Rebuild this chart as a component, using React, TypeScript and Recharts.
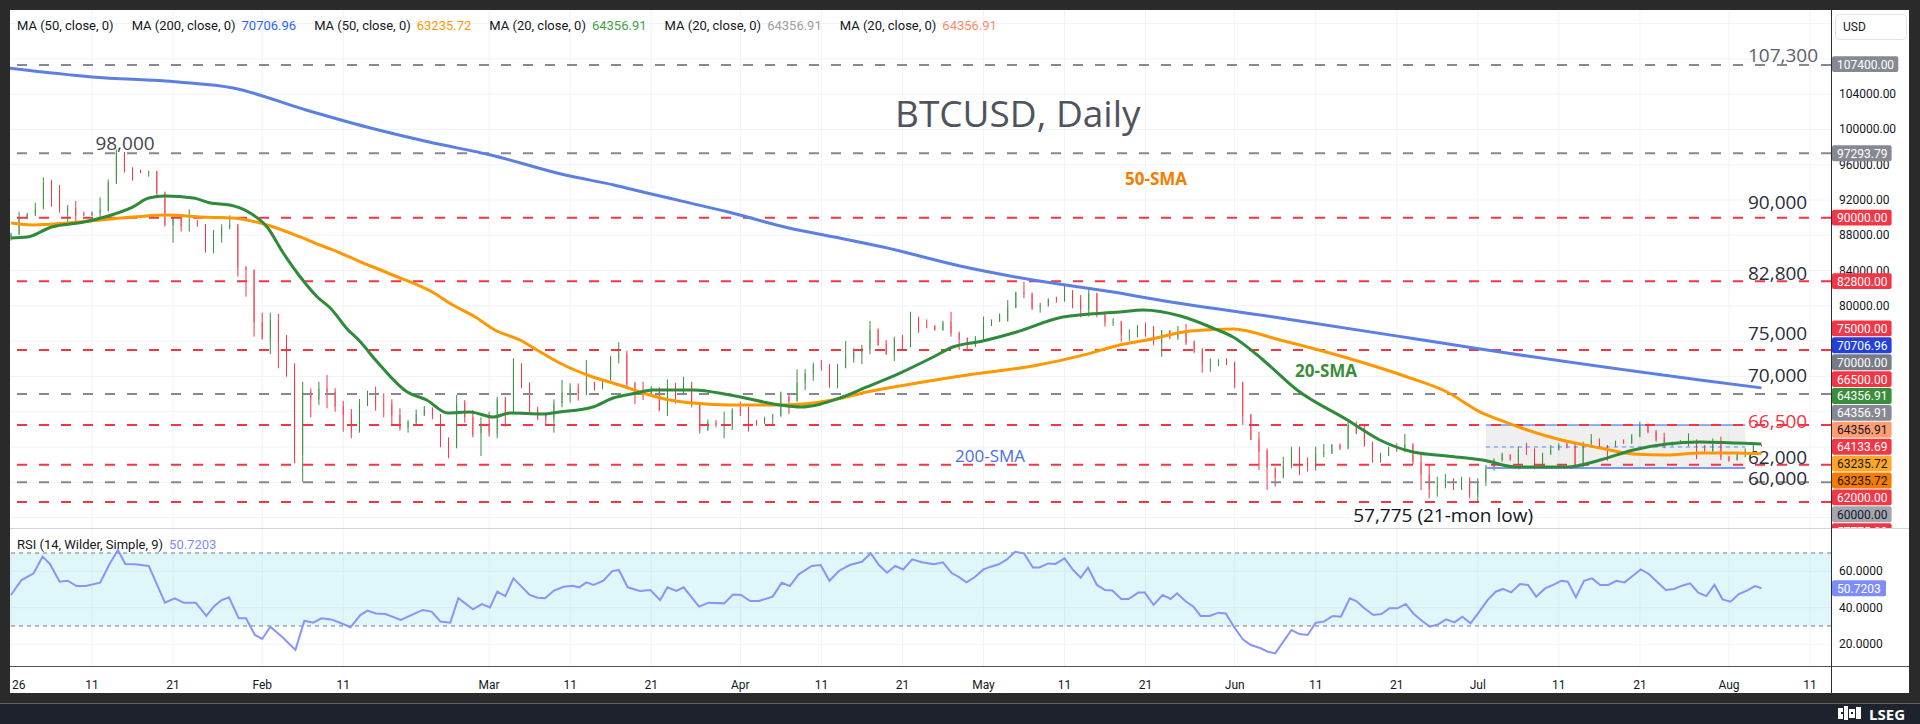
import React from "react";
import {
  CartesianGrid,
  ComposedChart,
  Bar,
  Line,
  ReferenceArea,
  ReferenceLine,
  XAxis,
  YAxis,
} from "recharts";

// ---- candles (day of year 2026, Jan 1 = 1) ----
const candleOpen = [
  87650, 88150, 89920, 90300, 91050, 94000, 93060, 90790, 91050, 90410,
  90260, 90490, 90790, 93890, 97360, 95470, 95360, 95100, 95210, 92830,
  89170, 90030, 89090, 89170, 89170, 86260, 87840, 88900, 89170, 84330,
  84060, 78170, 76210, 78400, 76130, 72540, 63100, 70280, 69410, 70620,
  70280, 68650, 67750, 65740, 68770, 69860, 68920, 68880, 67630, 66230,
  66760, 67630, 68270, 67630, 64570, 63970, 69030, 67370, 65550, 66690,
  65550, 69410, 67900, 73300, 71150, 68270, 67630, 67140, 68950, 70160,
  70660, 70090, 71340, 70660, 71600, 74170, 74550, 71220, 70390, 70010,
  70470, 68200, 70840, 70010, 71030, 68950, 65860, 66760, 66500, 66420,
  68310, 68200, 66950, 66690, 67370, 67520, 69710, 69260, 71300, 72280,
  73410, 73300, 71220, 73030, 74050, 74700, 75070, 77340, 75680, 74550,
  76210, 75570, 78400, 77830, 77720, 77270, 78210, 76890, 76320, 75570,
  76210, 77790, 78320, 78320, 79830, 81530, 81350, 79910, 80020, 80740,
  80590, 81720, 80670, 79610, 81350, 78970, 78100, 78210, 77080, 76810,
  77640, 77570, 75750, 77190, 76430, 77270, 75940, 75070, 73490, 73560,
  73790, 73490, 71300, 67630, 64870, 63590, 61590, 60570, 61850, 63480,
  62150, 61780, 63290, 63290, 64230, 63850, 66500, 65740, 64340, 62760,
  63100, 63740, 63480, 64340, 62340, 60830, 59430, 59510, 60260, 59430,
  60340, 58570, 60080, 61590, 62530, 63100, 62530, 63860, 63740, 61700,
  63210, 63670, 64350, 64120, 61850, 64350, 64880, 64160, 64120, 64720,
  64420, 65250, 66500, 65740, 65100, 64230, 64420, 64230, 64720, 63860,
  63480, 64720, 62910, 62530, 63480, 63590, 64200,
];
const candleHigh = [
  88300, 90680, 90560, 91700, 94570, 94270, 93700, 91430, 91890, 90680,
  90680, 92300, 94340, 97740, 97440, 95700, 95440, 95320, 95320, 92940,
  90300, 90190, 90940, 89730, 89280, 88600, 89240, 90260, 89280, 84520,
  84140, 79230, 79230, 79080, 76700, 73490, 71410, 70650, 71410, 72160,
  70660, 69220, 68310, 69450, 70390, 70840, 70090, 69410, 68390, 67070,
  68270, 68650, 68500, 67750, 65100, 69900, 69330, 68200, 67370, 68010,
  69710, 69710, 74060, 73490, 71340, 68580, 67900, 69410, 71600, 71220,
  71220, 73870, 71410, 71680, 74320, 75870, 74920, 71410, 71410, 70920,
  70770, 71680, 71300, 71980, 71410, 69030, 67140, 67070, 68010, 68390,
  69140, 68580, 67060, 67440, 67750, 70280, 69900, 72810, 72810, 73560,
  73870, 73410, 73410, 76020, 75190, 75570, 78290, 77450, 76130, 76510,
  76700, 79340, 78780, 78470, 77830, 78320, 79340, 77080, 76430, 76590,
  78780, 78470, 79150, 80670, 81610, 82740, 81500, 80360, 80850, 81040,
  82370, 81800, 81230, 81990, 81500, 79080, 78590, 78320, 77340, 77830,
  78100, 77720, 77270, 77270, 77720, 77950, 76060, 75190, 74050, 73940,
  74050, 73680, 71410, 67750, 65740, 63850, 61700, 62910, 64040, 64040,
  62830, 64040, 64340, 64340, 64420, 66990, 66880, 66500, 64610, 63360,
  64040, 64420, 65480, 64420, 63100, 61970, 60640, 60940, 60450, 60640,
  60570, 60460, 61970, 62720, 63360, 63210, 64040, 64500, 63860, 63360,
  64230, 64420, 64610, 64420, 64610, 65480, 64990, 64230, 64720, 64880,
  65480, 66880, 66690, 65930, 65630, 64610, 64800, 65560, 64880, 64230,
  64990, 65180, 62990, 63480, 63860, 64230, 64260,
];
const candleLow = [
  87390, 88030, 89810, 90190, 90940, 91240, 90560, 89350, 89540, 90190,
  90190, 89920, 90680, 93810, 95100, 94190, 95020, 94640, 92190, 88980,
  87160, 88410, 88410, 88980, 86030, 85950, 87160, 88670, 83310, 81040,
  76510, 76210, 74540, 72920, 71980, 62150, 60070, 67370, 68760, 68390,
  68010, 65740, 64990, 65630, 68650, 68120, 67370, 66610, 65860, 65630,
  66390, 67520, 67140, 63970, 62720, 63850, 66760, 65100, 62990, 65180,
  64990, 66310, 67820, 70660, 67820, 67070, 66610, 65630, 68500, 69030,
  69260, 69860, 70390, 70540, 71520, 73490, 70920, 68880, 69330, 69900,
  68050, 67520, 68950, 69900, 68500, 65550, 65860, 66230, 64990, 65930,
  67520, 65740, 66420, 66610, 66540, 67440, 67750, 69140, 70470, 71520,
  72660, 70730, 70650, 72920, 73560, 73410, 74510, 75450, 74430, 73750,
  75070, 75300, 76960, 77450, 77190, 77190, 76510, 75000, 74920, 75300,
  76130, 77720, 78170, 78210, 79720, 80850, 79530, 79230, 79910, 80360,
  80480, 79720, 78700, 78780, 78700, 77640, 77720, 75940, 76060, 76430,
  76510, 75570, 74240, 76210, 76130, 75570, 74620, 72430, 72540, 73190,
  73300, 70650, 66500, 64800, 61400, 59130, 59510, 60450, 61590, 60830,
  61210, 61320, 62830, 63210, 63660, 63740, 65480, 64040, 62230, 62230,
  62980, 63480, 63480, 62080, 59130, 58190, 58380, 59320, 59130, 59130,
  58190, 57775, 59590, 61320, 62340, 62460, 61480, 63100, 61480, 61700,
  63100, 63590, 63860, 61700, 61700, 64230, 63860, 62460, 64040, 64350,
  64350, 65100, 65560, 64610, 63860, 64120, 64350, 64120, 62610, 63360,
  63360, 62530, 62340, 62460, 62840, 63480, 64080,
];
const candleClose = [
  88150, 89920, 90410, 91050, 94000, 93060, 90870, 91050, 90190, 90260,
  90560, 90870, 94000, 97360, 95400, 95320, 95100, 95210, 92750, 89170,
  90110, 88980, 89170, 89050, 86260, 87840, 88790, 89170, 84330, 84140,
  78100, 76210, 78400, 76060, 72430, 63100, 70280, 69410, 70620, 70280,
  68580, 67630, 65740, 68880, 69900, 68770, 68840, 67630, 66120, 66840,
  67750, 68310, 67520, 64500, 63970, 68880, 67370, 65370, 66690, 65630,
  69410, 67900, 73300, 71030, 68200, 67370, 67140, 68950, 70200, 70660,
  70090, 71340, 70660, 71680, 74170, 74510, 71150, 70160, 70090, 70470,
  68200, 70840, 70010, 71030, 68950, 65860, 66760, 66500, 66570, 68200,
  68010, 66690, 66690, 67250, 67630, 70160, 69140, 71300, 72350, 73300,
  73190, 71220, 73110, 74130, 74810, 75190, 77270, 75570, 74550, 76210,
  75680, 78400, 77720, 77640, 77270, 78100, 76890, 76210, 75570, 76320,
  77830, 78400, 78850, 79830, 81530, 81350, 79720, 80100, 80740, 80590,
  81720, 80590, 79610, 81420, 78970, 78100, 78210, 76810, 77190, 77640,
  77530, 75680, 77190, 76430, 77080, 75830, 74810, 73490, 73680, 73790,
  73490, 71300, 67520, 64800, 63480, 61590, 60570, 61850, 63480, 62080,
  61780, 63290, 63360, 64230, 63850, 66500, 65550, 64230, 62910, 62910,
  63740, 63660, 64340, 62340, 60830, 59210, 59580, 60260, 59510, 60270,
  58570, 60080, 61590, 62530, 63210, 62610, 63740, 63670, 61700, 63210,
  63740, 64230, 64120, 61850, 64350, 64880, 64040, 64040, 64610, 64500,
  65250, 66310, 65740, 64800, 64120, 64500, 64610, 64800, 62720, 63590,
  64610, 62840, 62460, 63210, 63590, 64120, 64134,
];

// ---- moving averages ----
const sma20Days = [1, 3, 6, 10, 13, 16, 18, 20, 23.5, 25.6, 28, 30.5, 32.6, 34.6, 36.7, 38.8, 40.4, 42.6, 43.9, 46.2, 49.9, 52.3, 54.9, 57.6, 60.5, 62.6, 66.6, 68.7, 72.8, 75.3, 78.2, 80.2, 85.2, 89.7, 95.9, 98.4, 103.3, 106.6, 110.7, 114.8, 117.2, 120.9, 125.1, 130.8, 137.8, 140.7, 145.3, 149.3, 151.8, 155.5, 159.7, 165.9, 169.9, 174, 178.2, 182.6, 186.8, 193, 197.1, 201.2, 205.3, 209.4, 213.5, 217];
const sma20Values = [87690, 87800, 88940, 89500, 90190, 91200, 92220, 92450, 92220, 91660, 91430, 90530, 88940, 85990, 83270, 81010, 79760, 77270, 76130, 73640, 70240, 69330, 67860, 67970, 67410, 67860, 67750, 67970, 68540, 69560, 70130, 70470, 70470, 69900, 68770, 68540, 69560, 70810, 72390, 74210, 75340, 76020, 77040, 78740, 79310, 79530, 78850, 77490, 76470, 73870, 70470, 67070, 64800, 63440, 62990, 62530, 61740, 61740, 62530, 63670, 64350, 64570, 64460, 64357];

const sma50Days = [1, 3.7, 7.9, 12, 16.1, 20.2, 24.3, 28.4, 32.6, 36.7, 39.1, 40.4, 44.2, 48.1, 53.2, 55.3, 58.3, 60.7, 63.8, 65.9, 68.7, 72.8, 76.1, 79, 82.3, 85.2, 89.7, 96.3, 102.4, 106.6, 112.8, 119, 127.1, 133.3, 137.8, 141.2, 146.5, 151.8, 157.6, 165.9, 173.3, 178.2, 182.3, 184.7, 190.9, 197.1, 201.2, 205.3, 209.4, 213.5, 217];
const sma50Values = [89390, 89170, 89390, 89730, 90070, 90300, 90070, 89960, 89170, 87810, 86900, 86450, 84970, 83500, 81460, 80210, 78740, 77270, 76130, 75000, 73530, 71940, 71030, 70130, 69330, 68990, 68770, 68770, 69330, 70240, 71260, 72170, 73190, 74420, 75570, 76130, 77150, 77380, 76130, 74090, 71940, 70240, 67970, 67070, 65140, 63890, 63210, 63100, 63330, 63330, 63236];

const sma200Days = [0.5, 11, 21.6, 28.4, 37.4, 44.9, 52.6, 60.2, 69.4, 75.4, 79.5, 89.5, 97, 102.6, 108.6, 118.1, 127.1, 137.8, 141.2, 157.6, 174, 182.3, 209.4, 217];
const sma200Values = [106960, 105940, 105370, 104690, 102200, 100270, 98570, 97100, 94830, 93700, 92790, 90640, 88830, 87810, 86670, 84520, 82930, 81460, 80890, 78630, 76300, 75110, 71600, 70707];

// ---- RSI (14) ----
const rsiDays = [1, 2.3, 3.8, 4.9, 5.8, 7, 8, 9.1, 10.2, 12, 13.1, 14.2, 15.1, 16.3, 18, 20, 21.2, 22.3, 23.8, 25.1, 26.1, 27, 27.9, 29.1, 30, 31.1, 32, 33, 34.5, 36.1, 37.2, 38.3, 39.3, 40.5, 41.6, 42.9, 44.1, 45, 46, 47.2, 49.1, 50.4, 51.8, 52.9, 54, 55.2, 56.2, 58, 59.1, 60.1, 61, 62, 63, 65, 66, 66.9, 68, 69.2, 70.3, 71.1, 72, 72.9, 74.1, 75.2, 76, 77.1, 78.6, 79.9, 81.1, 82, 83.1, 84, 85.9, 87.1, 89, 90.1, 91.1, 92.2, 93.3, 95, 96.1, 97.1, 98.2, 99.8, 100.9, 102, 103.2, 104.5, 106, 107.1, 108.1, 109.1, 110.1, 111.1, 112.2, 113.4, 114.9, 116, 117.1, 117.9, 118.9, 119.9, 121, 121.9, 122.9, 123.9, 124.9, 126, 127.1, 127.9, 129, 129.9, 131, 132, 133, 133.9, 135, 136, 136.9, 138, 138.9, 140.1, 140.9, 142, 143.1, 144.1, 144.9, 145.9, 146.9, 147.8, 148.9, 150, 150.9, 151.9, 153, 154, 155.2, 156.1, 157, 158, 159, 160, 161, 162, 163, 164.1, 165.1, 166.2, 167, 168, 169.1, 170.1, 171.1, 172.1, 173.1, 174.1, 175.1, 176.1, 177.1, 178.1, 179.1, 180.1, 181.1, 182.1, 183.2, 184.2, 185.1, 186.1, 187.2, 188.2, 189.2, 190.3, 191.3, 192.3, 193.1, 194.1, 195.1, 196.1, 197.1, 198.1, 199.1, 200.1, 201.1, 202.1, 203.1, 204.1, 205.2, 206.2, 207.2, 208.2, 209.2, 210.2, 211.2, 212.2, 213.2, 214.2, 215.2, 216.2, 217];
const rsiValues = [47, 55.2, 58.9, 68, 64, 54.3, 54.8, 51.9, 51.9, 53.7, 63.4, 71.6, 64, 63.8, 62.9, 42.8, 45.2, 42.8, 42.8, 35.5, 41, 44.2, 45.7, 34.2, 34.2, 25.1, 22.9, 29.6, 23.8, 16.9, 32.9, 31.8, 34.2, 33.6, 31.8, 29.3, 36, 38.4, 36.9, 36.6, 33.3, 36, 38.8, 37.9, 32.4, 31.8, 45.2, 39.1, 42, 40.2, 48.8, 46.4, 56.1, 47, 45.5, 45.2, 49.4, 51.5, 52.1, 51.2, 53.9, 52.5, 54.8, 60.1, 60.7, 51.2, 49.2, 49.7, 44.2, 51.2, 49.2, 51.2, 40.6, 42.8, 42.4, 47.3, 47, 43.7, 43.7, 46.1, 53.7, 51.9, 58.3, 62.9, 63.4, 54.8, 60.3, 63.4, 65.2, 69.8, 63.4, 59.2, 62.9, 61, 66.5, 64.9, 63.8, 64.9, 58.9, 57, 53.9, 56.7, 61, 62.5, 63.8, 66.5, 70.7, 69.8, 62, 62.1, 64.3, 64, 67.1, 61, 56.5, 62, 52.5, 49.7, 49.4, 44.8, 44.8, 48.3, 48.3, 41.5, 47, 44.8, 47.9, 43.7, 40.6, 35.5, 35.5, 37.3, 36.9, 29.6, 22.7, 19.6, 17.8, 15.9, 15, 21.4, 27.8, 25.6, 25.1, 31.8, 32.4, 35.5, 35.1, 45.2, 43.7, 39.7, 36, 36.6, 39.7, 39.7, 42.1, 36.6, 32.9, 29.6, 30.9, 33.6, 32, 35.1, 31.5, 37.3, 44.2, 48.8, 50.3, 48.4, 53, 52.5, 46.1, 50.6, 52.5, 54.8, 54.3, 45.7, 54.8, 56.1, 52.5, 52.5, 54.8, 53.9, 57.4, 61, 58.5, 54.3, 49.7, 50.3, 52.1, 53.4, 48.3, 46.4, 52.5, 44.6, 43.3, 47.5, 49.4, 51.9, 50.7203];

// ---- date axis ----
const tickDays = [1, 11, 21, 32, 42, 60, 70, 80, 91, 101, 111, 121, 131, 141, 152, 162, 172, 182, 192, 202, 213, 223];
const tickLabels = ["26", "11", "21", "Feb", "11", "Mar", "11", "21", "Apr", "11", "21", "May", "11", "21", "Jun", "11", "21", "Jul", "11", "21", "Aug", "11"];
const priceGrid = [56000, 60000, 64000, 68000, 72000, 76000, 80000, 84000, 88000, 92000, 96000, 100000, 104000, 108000, 112000];

// ---- horizontal levels ----
const levelValues = [107300, 97293.79, 90000, 82800, 75000, 70000, 66500, 62000, 60000, 57775];
const levelTexts = ["107,300", "", "90,000", "82,800", "75,000", "70,000", "66,500", "62,000", "60,000", ""];
const levelKinds = ["gray", "gray", "red", "red", "red", "gray", "red", "red", "gray", "red"];
const levelLabelDy = [-10, 0, -16, -8, -17, -19, -4, -8, -4, 0];

// ---- price scale tags ----
const tagValues = [107400, 97293.79, 90000, 82800, 75000, 70706.96, 70000, 66500, 64356.91, 64356.91, 64356.91, 64133.69, 63235.72, 63235.72, 62000, 60000, 57775];
const tagBg = ["#868993", "#868993", "#f23645", "#f23645", "#f23645", "#2340d8", "#787b86", "#f23645", "#388e3c", "#868993", "#ff9e72", "#f23645", "#ffa726", "#f57c00", "#f23645", "#a3a6af", "#f23645"];
const tagFg = ["#fff", "#fff", "#fff", "#fff", "#fff", "#fff", "#fff", "#fff", "#fff", "#fff", "#131722", "#fff", "#131722", "#131722", "#fff", "#131722", "#fff"];

// ---- legends ----
const legendLabels = ["MA (50, close, 0)", "MA (200, close, 0)", "MA (50, close, 0)", "MA (20, close, 0)", "MA (20, close, 0)", "MA (20, close, 0)"];
const legendValues = ["", "70706.96", "63235.72", "64356.91", "64356.91", "64356.91"];
const legendColors = ["", "#2962ff", "#ff9800", "#43a047", "#9e9e9e", "#ff8a65"];

const GREEN = "#3a8f3e";
const RED = "#f23645";
const FONT = "Roboto, 'Noto Sans', sans-serif";
const ANNO = "'Open Sans', 'Noto Sans', sans-serif";

const PANEL_W = 1899;
const MAIN_H = 518;
const RSI_H = 165;
const RSI_PLOT_H = 138;
const AXIS_W = 78;
const PLOT_W = PANEL_W - AXIS_W;
const X_MIN = 0.877;
const X_MAX = 225.58;
const P_MIN = 54827;
const P_MAX = 113532;
const R_MIN = 8.08;
const R_MAX = 83.7;
const TAG_H = 16.9;
const CLUSTER_SHIFT = -8;

const candles = candleOpen.map((o, i) => ({
  d: i + 1,
  o,
  h: candleHigh[i],
  l: candleLow[i],
  c: candleClose[i],
  range: [candleLow[i], candleHigh[i]],
}));
const toSeries = (days: number[], vals: number[]) => days.map((d, i) => ({ d, v: vals[i] }));
const sma20 = toSeries(sma20Days, sma20Values);
const sma50 = toSeries(sma50Days, sma50Values);
const sma200 = toSeries(sma200Days, sma200Values);
const rsi = toSeries(rsiDays, rsiValues);

const priceY = (p: number) => ((P_MAX - p) / (P_MAX - P_MIN)) * MAIN_H;
const rsiY = (v: number) => ((R_MAX - v) / (R_MAX - R_MIN)) * RSI_PLOT_H;

// push overlapping tags apart, keeping each cluster centred on its values
function stackTags(ys: number[]) {
  const items = ys.map((y, i) => ({ i, y })).sort((a, b) => a.y - b.y || a.i - b.i);
  let groups = items.map((it) => ({ items: [it], center: it.y }));
  let merged = true;
  while (merged) {
    merged = false;
    for (let k = 0; k < groups.length - 1; k++) {
      const a = groups[k];
      const b = groups[k + 1];
      const aBottom = a.center + ((a.items.length - 1) * TAG_H) / 2;
      const bTop = b.center - ((b.items.length - 1) * TAG_H) / 2;
      if (bTop - aBottom < TAG_H) {
        const all = [...a.items, ...b.items];
        const center = all.reduce((s, it) => s + it.y, 0) / all.length;
        groups.splice(k, 2, { items: all, center });
        merged = true;
        break;
      }
    }
  }
  const out: number[] = [];
  groups.forEach((g) => {
    const shift = g.items.length > 3 ? CLUSTER_SHIFT : 0;
    g.items.forEach((it, k) => {
      out[it.i] = g.center + shift + (k - (g.items.length - 1) / 2) * TAG_H;
    });
  });
  return out;
}

const tagYs = stackTags(tagValues.map(priceY));
// axis labels that would sit under a tag or the currency box are not drawn
const priceTicks = priceGrid.filter((p) => {
  const y = priceY(p);
  if (y < 32) return false;
  return tagYs.every((ty) => Math.abs(ty - y) >= 7);
});

const Candle = (props: any) => {
  const { x, y, width, height, payload } = props;
  if (!payload || x == null || y == null) return null;
  const top = Math.min(y, y + height);
  const hgt = Math.abs(height);
  const span = payload.h - payload.l || 1;
  const yOf = (v: number) => top + ((payload.h - v) / span) * hgt;
  const color = payload.c >= payload.o ? GREEN : RED;
  const cx = x + width / 2;
  const bTop = yOf(Math.max(payload.o, payload.c));
  const bBot = yOf(Math.min(payload.o, payload.c));
  return (
    <g>
      <line x1={cx} x2={cx} y1={top} y2={top + hgt} stroke={color} strokeWidth={1} />
      <rect x={x} y={bTop} width={width} height={Math.max(1, bBot - bTop)} fill={color} />
    </g>
  );
};

const LevelLabel = (props: any) => {
  const { viewBox, text, color, dy } = props;
  if (!viewBox || !text) return null;
  return (
    <text x={viewBox.x + viewBox.width - 83} y={viewBox.y + dy} dominantBaseline="central" fontFamily={ANNO} fontSize={19} fill={color}>
      {text}
    </text>
  );
};

const PriceTick = (props: any) => {
  const { y, payload } = props;
  return (
    <text x={PLOT_W + 8} y={y} dominantBaseline="central" fontFamily={FONT} fontSize={12} fill="#131722">
      {Number(payload.value).toFixed(2)}
    </text>
  );
};

const RsiTick = (props: any) => {
  const { y, payload } = props;
  return (
    <text x={PLOT_W + 8} y={y} dominantBaseline="central" fontFamily={FONT} fontSize={12} fill="#131722">
      {Number(payload.value).toFixed(4)}
    </text>
  );
};

const DateTick = (props: any) => {
  const { x, y, payload } = props;
  const idx = tickDays.indexOf(payload.value);
  const first = idx === 0;
  return (
    <text x={first ? x + 1 : x} y={y + 11} textAnchor={first ? "start" : "middle"} dominantBaseline="central" fontFamily={FONT} fontSize={12} fill="#131722">
      {tickLabels[idx]}
    </text>
  );
};

export default function App() {
  const rsiLast = rsiValues[rsiValues.length - 1];

  return (
    <div style={{ position: "fixed", left: 0, top: 0, width: 1920, height: 724, background: "#2a2a2a", overflow: "hidden", fontFamily: FONT }}>
      <div style={{ position: "absolute", left: 10, top: 10, width: PANEL_W, height: 683, background: "#ffffff", overflow: "hidden" }}>
        {/* main pane */}
        <div style={{ position: "absolute", left: 0, top: 0 }}>
          <ComposedChart width={PANEL_W} height={MAIN_H} data={candles} margin={{ top: 0, right: 0, bottom: 0, left: 0 }}>
            <CartesianGrid stroke="#f0f3fa" verticalValues={tickDays} horizontalValues={priceGrid} />
            <XAxis type="number" dataKey="d" domain={[X_MIN, X_MAX]} allowDataOverflow hide />
            <YAxis orientation="right" width={AXIS_W} domain={[P_MIN, P_MAX]} ticks={priceTicks} allowDataOverflow tick={<PriceTick />} axisLine={false} tickLine={false} interval={0} />
            <ReferenceArea x1={183} x2={215} y1={61630} y2={66500} fill="#787b86" fillOpacity={0.12} stroke="none" ifOverflow="visible" />
            <ReferenceLine segment={[{ x: 183, y: 66500 }, { x: 215, y: 66500 }]} stroke="#2962ff" strokeWidth={1} />
            <ReferenceLine segment={[{ x: 183, y: 64010 }, { x: 215, y: 64010 }]} stroke="#2962ff" strokeOpacity={0.7} strokeDasharray="4 4" strokeWidth={1} />
            <ReferenceLine segment={[{ x: 183, y: 61630 }, { x: 215, y: 61630 }]} stroke="#7f97f7" strokeWidth={2} />
            {levelValues.map((v, i) => (
              <ReferenceLine
                key={`lvl-${i}`}
                y={v}
                stroke={levelKinds[i] === "red" ? RED : "#868993"}
                strokeWidth={2}
                strokeDasharray="10 12"
                label={<LevelLabel text={levelTexts[i]} dy={levelLabelDy[i]} color={i === 6 ? RED : i === 0 ? "#5d606b" : "#2a2e39"} />}
              />
            ))}
            <Bar dataKey="range" barSize={5} shape={<Candle />} isAnimationActive={false} />
            <Line data={sma200} dataKey="v" type="monotone" stroke="#5b7fe3" strokeWidth={3} dot={false} activeDot={false} isAnimationActive={false} />
            <Line data={sma50} dataKey="v" type="monotone" stroke="#ff9800" strokeWidth={3} dot={false} activeDot={false} isAnimationActive={false} />
            <Line data={sma20} dataKey="v" type="monotone" stroke="#2f8a39" strokeWidth={3} dot={false} activeDot={false} isAnimationActive={false} />
          </ComposedChart>
        </div>

        {/* annotations on main pane */}
        <svg style={{ position: "absolute", left: 0, top: 0 }} width={PANEL_W} height={MAIN_H}>
          <text x={885} y={102} dominantBaseline="central" fontFamily={ANNO} fontSize={37} fill="#50535e">BTCUSD, Daily</text>
          <text x={1115} y={168} dominantBaseline="central" fontFamily={ANNO} fontWeight={700} fontSize={17} fill="#f57c00">50-SMA</text>
          <text x={1285} y={360} dominantBaseline="central" fontFamily={ANNO} fontWeight={700} fontSize={17} fill="#388e3c">20-SMA</text>
          <text x={945} y={445} dominantBaseline="central" fontFamily={ANNO} fontSize={17} fill="#4a6ee0">200-SMA</text>
          <text x={115} y={133} textAnchor="middle" dominantBaseline="central" fontFamily={ANNO} fontSize={19} fill="#434651">98,000</text>
          <text x={1523} y={505} textAnchor="end" dominantBaseline="central" fontFamily={ANNO} fontSize={19} fill="#131722">57,775 (21-mon low)</text>
          {/* currency box */}
          <rect x={1825.5} y={4.5} width={71} height={25} rx={4} fill="#ffffff" stroke="#e0e3eb" />
          <text x={1833} y={17} dominantBaseline="central" fontFamily={FONT} fontSize={12} fill="#131722">USD</text>
          {tagValues.map((v, i) => {
            const txt = v.toFixed(2);
            const w = txt.length * 6.7 + 6;
            return (
              <g key={`tag-${i}`}>
                <rect x={PLOT_W + 1} y={tagYs[i] - TAG_H / 2 + 0.5} width={w} height={TAG_H - 1} rx={2} fill={tagBg[i]} />
                <text x={PLOT_W + 6} y={tagYs[i] + 0.5} dominantBaseline="central" fontFamily={FONT} fontSize={12} fill={tagFg[i]}>{txt}</text>
              </g>
            );
          })}
        </svg>

        {/* top legend */}
        <div style={{ position: "absolute", left: 7, top: 8, display: "flex", gap: 18, fontSize: 13, color: "#131722", whiteSpace: "nowrap", lineHeight: "16px" }}>
          {legendLabels.map((l, i) => (
            <span key={`lg-${i}`}>
              {l}
              {legendValues[i] ? <span style={{ color: legendColors[i], marginLeft: 6 }}>{legendValues[i]}</span> : null}
            </span>
          ))}
        </div>

        {/* RSI pane */}
        <div style={{ position: "absolute", left: 0, top: MAIN_H }}>
          <ComposedChart width={PANEL_W} height={RSI_H} margin={{ top: 0, right: 0, bottom: 0, left: 0 }}>
            <CartesianGrid stroke="#f0f3fa" verticalValues={tickDays} horizontalValues={[20, 40, 60]} />
            <XAxis type="number" dataKey="d" domain={[X_MIN, X_MAX]} allowDataOverflow ticks={tickDays} interval={0} height={RSI_H - RSI_PLOT_H} tick={<DateTick />} axisLine={false} tickLine={false} />
            <YAxis orientation="right" width={AXIS_W} domain={[R_MIN, R_MAX]} ticks={[20, 40, 60]} allowDataOverflow tick={<RsiTick />} axisLine={false} tickLine={false} interval={0} />
            <ReferenceArea y1={30} y2={70} fill="#00bcd4" fillOpacity={0.12} stroke="none" />
            <ReferenceLine y={70} stroke="#787b86" strokeDasharray="4 4" strokeWidth={1} />
            <ReferenceLine y={30} stroke="#787b86" strokeDasharray="4 4" strokeWidth={1} />
            <Line data={rsi} dataKey="v" type="linear" stroke="#8795f8" strokeWidth={2} dot={false} activeDot={false} isAnimationActive={false} />
          </ComposedChart>
        </div>
        <svg style={{ position: "absolute", left: 0, top: MAIN_H }} width={PANEL_W} height={RSI_PLOT_H}>
          <rect x={PLOT_W + 1} y={rsiY(rsiLast) - TAG_H / 2 + 0.5} width={54} height={TAG_H - 1} rx={2} fill="#7e8cf8" />
          <text x={PLOT_W + 6} y={rsiY(rsiLast) + 0.5} dominantBaseline="central" fontFamily={FONT} fontSize={12} fill="#ffffff">{rsiLast.toFixed(4)}</text>
        </svg>
        <div style={{ position: "absolute", left: 7, top: MAIN_H + 9, fontSize: 13, color: "#131722", whiteSpace: "nowrap", lineHeight: "16px" }}>
          RSI (14, Wilder, Simple, 9)
          <span style={{ color: "#7e8cf8", marginLeft: 6 }}>{rsiLast.toFixed(4)}</span>
        </div>

        {/* pane separators */}
        <div style={{ position: "absolute", left: 0, top: MAIN_H, width: PANEL_W, height: 1, background: "#d1d4dc" }} />
        <div style={{ position: "absolute", left: 0, top: MAIN_H + RSI_PLOT_H, width: PANEL_W, height: 1, background: "#50535e" }} />
        <div style={{ position: "absolute", left: PLOT_W, top: 0, width: 1, height: 683, background: "#2a2e39" }} />
      </div>

      {/* bottom bar */}
      <div style={{ position: "absolute", left: 0, top: 703, width: 1920, height: 1, background: "#5d606b" }} />
      <div style={{ position: "absolute", left: 0, top: 704, width: 1920, height: 20, background: "#1e222d" }} />
      <svg style={{ position: "absolute", left: 1836, top: 705 }} width={28} height={18}>
        <rect x={2} y={3} width={5} height={11} fill="#ffffff" />
        <rect x={8} y={1} width={4} height={14} fill="#ffffff" />
        <rect x={13} y={4} width={6} height={9} fill="#ffffff" />
        <rect x={20} y={2} width={5} height={12} fill="#ffffff" />
        <rect x={5} y={7} width={2} height={2} fill="#1e222d" />
        <rect x={15} y={7} width={2} height={2} fill="#1e222d" />
      </svg>
      <div style={{ position: "absolute", left: 1869, top: 704, height: 20, lineHeight: "20px", color: "#ffffff", fontWeight: 700, fontSize: 15, fontFamily: ANNO }}>
        LSEG
      </div>
    </div>
  );
}
